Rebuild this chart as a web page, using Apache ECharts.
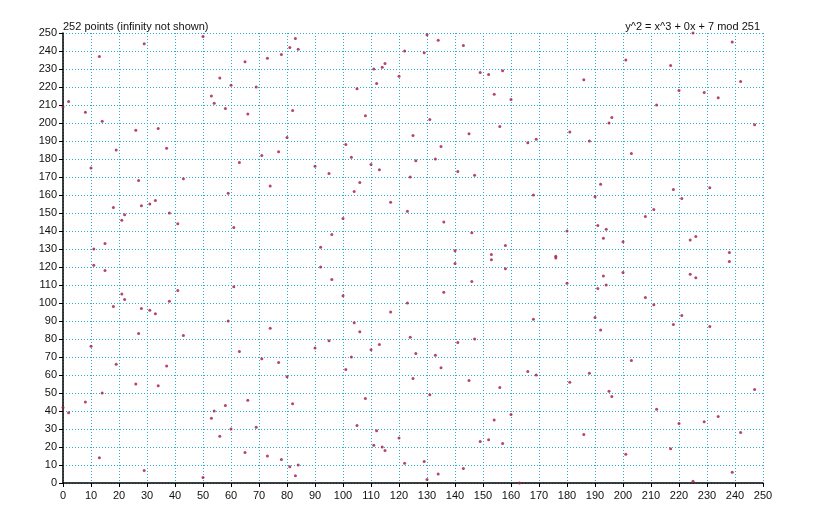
<!DOCTYPE html>
<html>
<head>
<meta charset="utf-8">
<script src="https://cdn.jsdelivr.net/npm/echarts@6/dist/echarts.min.js"></script>
<style>html,body{margin:0;padding:0;background:#fff}#chart{width:827px;height:526px}</style>
</head>
<body>
<div id="chart"></div>
<script>
// points of y^2 = x^3 + 7 mod 251: x, lower y, upper y (-1 = none)
const xs = [0,2,8,10,11,13,14,15,18,19,21,22,26,27,28,29,31,33,34,37,38,41,43,50,53,54,56,58,59,60,61,63,65,66,69,71,73,74,77,78,80,81,82,83,84,90,92,95,96,100,101,103,104,105,106,108,110,111,112,113,114,115,117,120,122,123,124,125,126,129,130,131,133,134,135,136,140,141,143,145,146,147,149,152,153,154,156,157,158,160,163,166,168,169,176,180,181,186,188,190,191,192,193,194,195,196,200,201,203,208,211,212,217,218,220,221,224,225,226,229,231,234,238,239,242,247];
const yLow = [42,39,45,76,121,14,50,118,98,66,105,102,55,83,97,7,96,94,54,65,101,107,82,3,36,40,26,43,90,30,109,73,17,46,31,69,15,86,67,13,59,9,44,4,10,75,120,79,113,104,63,70,89,32,84,47,74,21,29,77,20,18,95,25,11,100,81,58,72,12,2,49,71,5,64,106,122,78,8,57,112,80,23,24,124,35,53,22,119,38,0,62,91,60,125,111,56,27,61,92,108,85,115,110,51,48,117,16,68,103,99,41,19,88,33,93,116,1,114,34,87,37,123,6,28,52];
const yHigh = [209,212,206,175,130,237,201,133,153,185,146,149,196,168,154,244,155,157,197,186,150,144,169,248,215,211,225,208,161,221,142,178,234,205,220,182,236,165,184,238,192,242,207,247,241,176,131,172,138,147,188,181,162,219,167,204,177,230,222,174,231,233,156,226,240,151,170,193,179,239,249,202,180,246,187,145,129,173,243,194,139,171,228,227,127,216,198,229,132,213,-1,189,160,191,126,140,195,224,190,159,143,166,136,141,200,203,134,235,183,148,152,210,232,163,218,158,135,250,137,217,164,214,128,245,223,199];

const data = [];
xs.forEach((x, i) => {
  data.push([x, yLow[i]]);
  if (yHigh[i] >= 0) data.push([x, yHigh[i]]);
});

const chart = echarts.init(document.getElementById('chart'), null, { renderer: 'canvas' });
const axisCommon = {
  type: 'value', min: 0, max: 250, interval: 10,
  axisLine: { show: true, onZero: false, lineStyle: { color: '#000', width: 1.5 } },
  axisTick: { show: true, length: 4, lineStyle: { color: '#000' } },
  axisLabel: { color: '#111', fontSize: 11, fontFamily: 'Liberation Sans' },
  splitLine: { show: true, lineStyle: { color: '#2aaed0', type: [1, 2], width: 1 } }
};
chart.setOption({
  animation: false,
  textStyle: { fontFamily: 'Liberation Sans' },
  title: [
    { text: '252 points (infinity not shown)', left: 58, top: 16,
      textStyle: { fontSize: 11, fontWeight: 'normal', color: '#111' } },
    { text: 'y^2 = x^3 + 0x + 7 mod 251', right: 62, top: 16,
      textStyle: { fontSize: 11, fontWeight: 'normal', color: '#111' } }
  ],
  grid: { left: 63, right: 64, top: 33, bottom: 43 },
  xAxis: Object.assign({}, axisCommon, { axisLabel: Object.assign({}, axisCommon.axisLabel, { margin: 7 }) }),
  yAxis: Object.assign({}, axisCommon, { axisLabel: Object.assign({}, axisCommon.axisLabel, { margin: 6 }) }),
  series: [{
    type: 'scatter',
    data: data,
    symbolSize: 3,
    itemStyle: { color: '#a01848' }
  }]
});
</script>
</body>
</html>
